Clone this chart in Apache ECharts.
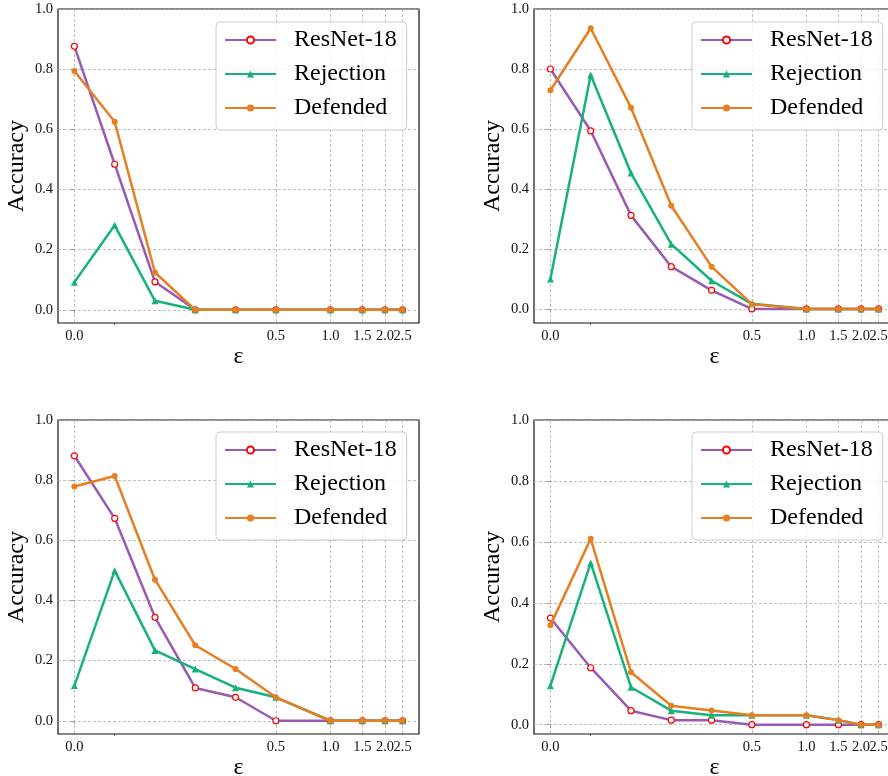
<!DOCTYPE html>
<html><head><meta charset="utf-8">
<script src="https://cdn.jsdelivr.net/npm/echarts@6/dist/echarts.min.js"></script>
<style>html,body{margin:0;padding:0;background:#fff}#c{width:888px;height:776px}</style>
</head><body><div id="c"></div>
<script>
// ---- data ----
const eps = [0, 0.1, 0.2, 0.3, 0.4, 0.5, 1.0, 1.5, 2.0, 2.5];
const xTickValues = [0, 0.5, 1.0, 1.5, 2.0, 2.5];
const xTickLabels = ['0.0', '0.5', '1.0', '1.5', '2.0', '2.5'];
const xMinorTickValues = [0.1];
const yTickValues = [0, 0.2, 0.4, 0.6, 0.8, 1.0];
const seriesNames = ['ResNet-18', 'Rejection', 'Defended'];

// panel 1 (top-left)
const resnetP1    = [0.876, 0.484, 0.093, 0, 0, 0, 0, 0, 0, 0];
const rejectionP1 = [0.092, 0.281, 0.030, 0, 0, 0, 0, 0, 0, 0];
const defendedP1  = [0.794, 0.625, 0.124, 0, 0, 0, 0, 0, 0, 0];
// panel 2 (top-right)
const resnetP2    = [0.800, 0.594, 0.312, 0.141, 0.062, 0, 0, 0, 0, 0];
const rejectionP2 = [0.100, 0.780, 0.453, 0.216, 0.094, 0.017, 0, 0, 0, 0];
const defendedP2  = [0.729, 0.936, 0.671, 0.344, 0.141, 0.016, 0, 0, 0, 0];
// panel 3 (bottom-left)
const resnetP3    = [0.881, 0.673, 0.344, 0.109, 0.078, 0, 0, 0, 0, 0];
const rejectionP3 = [0.117, 0.499, 0.234, 0.172, 0.110, 0.078, 0, 0, 0, 0];
const defendedP3  = [0.779, 0.814, 0.469, 0.251, 0.172, 0.078, 0, 0, 0, 0];
// panel 4 (bottom-right)
const resnetP4    = [0.350, 0.187, 0.046, 0.015, 0.015, 0, 0, 0, 0, 0];
const rejectionP4 = [0.128, 0.531, 0.123, 0.046, 0.031, 0.031, 0.031, 0.015, 0, 0];
const defendedP4  = [0.326, 0.610, 0.172, 0.062, 0.047, 0.031, 0.031, 0.015, 0, 0];

const panels = [
  [resnetP1, rejectionP1, defendedP1],
  [resnetP2, rejectionP2, defendedP2],
  [resnetP3, rejectionP3, defendedP3],
  [resnetP4, rejectionP4, defendedP4]
];

// ---- symlog scale (linthresh 0.5, linscale 1, base 10) ----
const LT = 0.5, LSA = 1 / (1 - 1 / 10);
function symlog(x) {
  const a = Math.abs(x), s = x < 0 ? -1 : 1;
  return a <= LT ? x * LSA : s * LT * (LSA + Math.log10(a / LT));
}
const xSpan = symlog(eps[eps.length - 1]) - symlog(eps[0]);
const xMin = symlog(eps[0]) - 0.05 * xSpan;
const xMax = symlog(eps[eps.length - 1]) + 0.05 * xSpan;

// ---- layout / style ----
const FONT = 'Liberation Serif';
const gridPos = [[58, 9], [534, 9], [58, 420], [534, 420]];
const GW = 361, GH = 314;
const legendPos = [[216, 22], [692, 22], [216, 432], [692, 432]];
const colors = ['#9b59b6', '#17b27b', '#e67e22'];

const tickPos = xTickValues.map(symlog);
function tickLabel(v) {
  let best = 0;
  tickPos.forEach((t, k) => { if (Math.abs(t - v) < Math.abs(tickPos[best] - v)) best = k; });
  return xTickLabels[best];
}
// alternate labels between two axes so touching labels ("2.0" "2.5") are both kept
const labelPosA = tickPos.filter((t, k) => k !== tickPos.length - 1);
const labelPosB = tickPos.filter((t, k) => k === tickPos.length - 1);

const option = { animation: false, grid: [], xAxis: [], yAxis: [], legend: [], series: [] };
const labelStyle = { fontFamily: FONT, fontSize: 14.5, color: '#111' };

panels.forEach((p, i) => {
  const maxV = Math.max(...p.flat());
  const yMin = -0.05 * maxV;
  option.grid.push({
    left: gridPos[i][0], top: gridPos[i][1], width: GW, height: GH,
    show: true, borderColor: '#111', borderWidth: 1.2, backgroundColor: 'transparent',
    outerBoundsMode: 'none', containLabel: false
  });
  option.xAxis.push({
    type: 'value', gridIndex: i, min: xMin, max: xMax, position: 'bottom',
    name: 'ε', nameLocation: 'middle', nameGap: 34,
    nameTextStyle: { fontFamily: FONT, fontSize: 24, color: '#000', verticalAlign: 'middle' },
    axisLine: { show: false },
    axisTick: { show: true, customValues: tickPos, length: 3.5, lineStyle: { color: '#999', width: 1 } },
    axisLabel: Object.assign({ customValues: labelPosA, margin: 6, hideOverlap: false, showMaxLabel: true, showMinLabel: true, formatter: tickLabel }, labelStyle),
    splitLine: { show: true, lineStyle: { color: '#b0b0b0', type: [3, 2], width: 0.8 } }
  });
  option.xAxis.push({
    type: 'value', gridIndex: i, min: xMin, max: xMax, position: 'bottom', offset: 0,
    axisLine: { show: false, onZero: false },
    axisTick: { show: true, customValues: xMinorTickValues.map(symlog), length: 2, lineStyle: { color: '#333', width: 0.8 } },
    axisLabel: Object.assign({ customValues: labelPosB, margin: 6, hideOverlap: false, showMaxLabel: true, showMinLabel: true, formatter: tickLabel }, labelStyle),
    splitLine: { show: false }
  });
  option.yAxis.push({
    type: 'value', gridIndex: i, min: yMin, max: 1,
    name: 'Accuracy', nameLocation: 'middle', nameGap: 41,
    nameTextStyle: { fontFamily: FONT, fontSize: 24, color: '#000', verticalAlign: 'middle' },
    axisLine: { show: false },
    axisTick: { show: true, customValues: yTickValues, length: 3.5, lineStyle: { color: '#999', width: 1 } },
    axisLabel: Object.assign({ customValues: yTickValues, margin: 5, showMaxLabel: true, formatter: v => v.toFixed(1) }, labelStyle),
    splitLine: { show: true, lineStyle: { color: '#b0b0b0', type: [3, 2], width: 0.8 } }
  });
  option.legend.push({
    left: legendPos[i][0], top: legendPos[i][1], orient: 'vertical',
    backgroundColor: 'rgba(255,255,255,0.8)', borderColor: '#cccccc', borderWidth: 1, borderRadius: 4,
    padding: [6, 10, 10, 8], itemGap: 10, itemWidth: 51, itemHeight: 9,
    textStyle: { fontFamily: FONT, fontSize: 24, color: '#000', lineHeight: 24, padding: [0, 0, 0, 13] },
    data: seriesNames, selectedMode: false
  });
  const styles = [
    { symbol: 'circle', symbolSize: 6, itemStyle: { color: '#ffffff', borderColor: '#ff0000', borderWidth: 1.2 } },
    { symbol: 'triangle', symbolSize: 7, itemStyle: { color: colors[1], borderWidth: 0 } },
    { symbol: 'circle', symbolSize: 6, itemStyle: { color: colors[2], borderWidth: 0 } }
  ];
  p.forEach((vals, s) => {
    option.series.push(Object.assign({
      type: 'line', name: seriesNames[s], xAxisIndex: 2 * i, yAxisIndex: i,
      data: eps.map((e, k) => [symlog(e), vals[k]]),
      showAllSymbol: true, clip: false,
      lineStyle: { color: colors[s], width: 2.5 },
      emphasis: { disabled: true }, z: 3 + s
    }, styles[s]));
  });
});

const chart = echarts.init(document.getElementById('c'), null, { renderer: 'canvas' });
chart.setOption(option);
</script>
</body></html>
